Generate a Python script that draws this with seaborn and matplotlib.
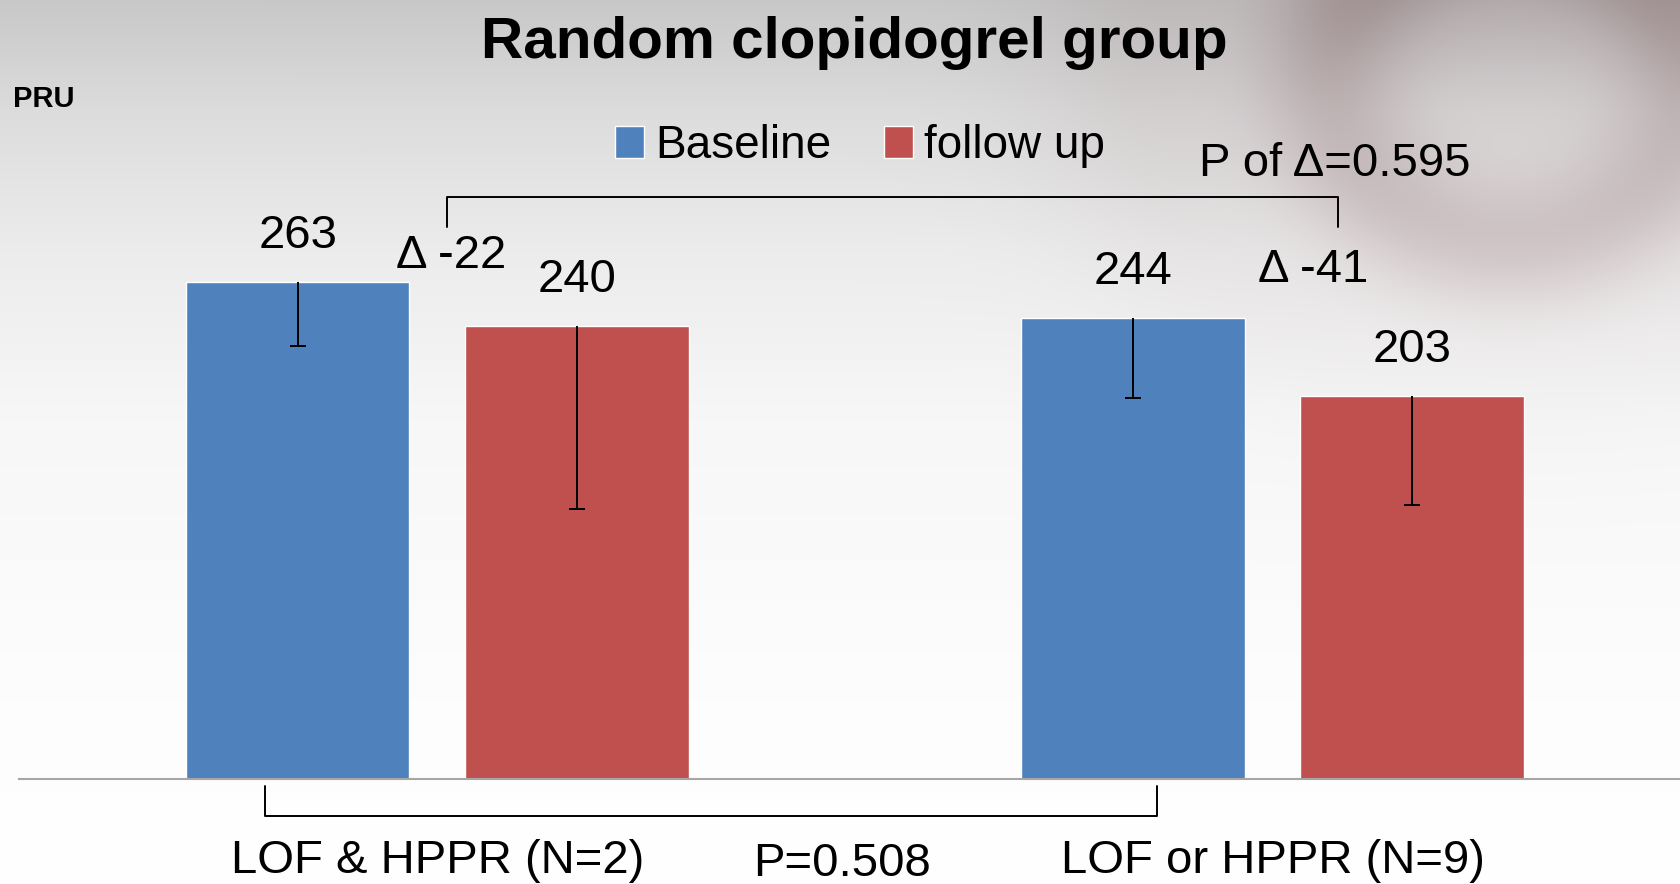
import numpy as np
import pandas as pd
import matplotlib
matplotlib.use("Agg")
import matplotlib.pyplot as plt
import seaborn as sns

# ---------------- data ----------------
groups = ["LOF & HPPR (N=2)", "LOF or HPPR (N=9)"]
series_names = ["Baseline", "follow up"]
baseline_pru = [263, 244]
followup_pru = [240, 203]
baseline_sd = [34, 42]
followup_sd = [97, 58]
delta_labels = ["Δ -22", "Δ -41"]
p_delta_text = "P of Δ=0.595"
p_group_text = "P=0.508"
title_text = "Random clopidogrel group"
y_label = "PRU"

colors = {"Baseline": "#4F81BD", "follow up": "#C0504D"}

df = pd.DataFrame({
    "group": groups * 2,
    "series": [series_names[0]] * 2 + [series_names[1]] * 2,
    "PRU": baseline_pru + followup_pru,
})

sns.set_style("white")
plt.rcParams["font.family"] = ["Liberation Sans", "DejaVu Sans"]
plt.rcParams["text.color"] = "black"
plt.rcParams["xtick.color"] = "black"
plt.rcParams["axes.labelcolor"] = "black"

W, H, DPI = 1680, 884, 100
fig = plt.figure(figsize=(W / DPI, H / DPI), dpi=DPI)

# ---------------- background (slide decoration) ----------------
yy, xx = np.mgrid[0:H, 0:W].astype(float)
g = np.interp(yy, [0, 110, 250, 420, 700, 884], [200, 220, 236, 247, 253, 255])
cx, cy, rx, ry = 1510, 80, 180, 160
r = np.sqrt(((xx - cx) / rx) ** 2 + ((yy - cy) / ry) ** 2)
band = np.exp(-((r - 1) / 0.42) ** 2)
inner = np.exp(-(r / 1.0) ** 2)
top = np.exp(-(yy / 80) ** 2) / (1 + np.exp(-(xx - 1300) / 30))
halo = np.exp(-((r - 2.0) / 0.7) ** 2) * np.exp(-(yy / 330) ** 2)
dark = 34 * band + 10 * inner + 14 * top + 14 * halo
R = np.clip(g - dark * 0.72, 0, 255)
G = np.clip(g - dark, 0, 255)
B = np.clip(g - dark * 0.97, 0, 255)
img = np.dstack([R, G, B]) / 255.0
fig.figimage(img, xo=0, yo=0, origin="upper", zorder=-10)

# ---------------- axes ----------------
base_px = 779.3
ax = fig.add_axes([19 / W, (H - base_px) / H, (W - 19) / W, (base_px - 100) / H])
ax.patch.set_alpha(0)

sns.barplot(data=df, x="group", y="PRU", hue="series", palette=colors,
            width=0.6686, gap=0.2, errorbar=None, saturation=1, ax=ax)

sds = [baseline_sd, followup_sd]
for cont, sdlist in zip(ax.containers, sds):
    for bar, sd in zip(cont, sdlist):
        x = bar.get_x() + bar.get_width() / 2
        h = bar.get_height()
        ax.vlines(x, h - sd, h, color="black", lw=1.4, zorder=5)
        ax.plot([x], [h - sd], marker="_", markersize=11.5, mew=1.4,
                color="black", zorder=5)
        ax.annotate(f"{h:.0f}", (x, h), xytext=(0, 24.5), textcoords="offset points",
                    ha="center", va="baseline", fontsize=34)

ax.set_xlim(-0.5008, 1.4879)
ax.set_ylim(0, 359.4)
ax.set_xlabel("")
ax.set_ylabel("")
ax.set_yticks([])
for s in ["left", "right", "top"]:
    ax.spines[s].set_visible(False)
ax.spines["bottom"].set_color("#a6a6a6")
ax.spines["bottom"].set_linewidth(1.5)
ax.tick_params(axis="x", length=0, pad=67.5, labelsize=34, labelcolor="black")
for t in ax.get_xticklabels():
    t.set_va("baseline")

# legend
handles, labels = ax.get_legend_handles_labels()
ax.legend(handles, labels, loc="center", bbox_to_anchor=(860 / W, 1 - 146 / H),
          bbox_transform=fig.transFigure, ncol=2, frameon=False, fontsize=33,
          handlelength=0.63, handleheight=0.69, handletextpad=0.25,
          columnspacing=1.15, borderpad=0, borderaxespad=0)

# delta annotations
delta_pos = [(0.0164, 270.5), (1.0485, 263.1)]
for (dx, dy), txt in zip(delta_pos, delta_labels):
    ax.text(dx, dy, txt, ha="center", va="baseline", fontsize=34)

# top bracket + p of delta
ax.plot([0.0116, 0.0116, 1.0790, 1.0790], [292.2, 308.1, 308.1, 292.2],
        color="black", lw=1.4, clip_on=False)
ax.text(1.0748, 319.2, p_delta_text, ha="center", va="baseline", fontsize=34)

# bottom bracket + p
ax.plot([-0.2063, -0.2063, 0.8623, 0.8623], [-3.5, -19.4, -19.4, -3.5],
        color="black", lw=1.4, clip_on=False)
ax.text(0.484, -51.2, p_group_text, ha="center", va="baseline", fontsize=34,
        clip_on=False)

# title and unit
fig.text(854 / W, 1 - 58 / H, title_text, ha="center", va="baseline",
         fontsize=42, fontweight="bold")
fig.text(13 / W, 1 - 107 / H, y_label, ha="left", va="baseline",
         fontsize=21, fontweight="bold")

fig.savefig("out.png", dpi=DPI)
